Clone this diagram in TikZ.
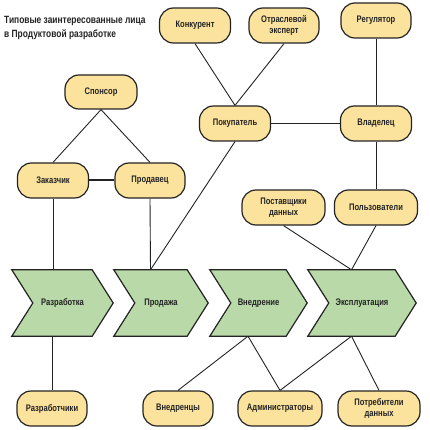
\documentclass[tikz,border=0pt]{standalone}
\usepackage{fontspec}
\setmainfont{Liberation Sans}[FakeStretch=0.8]
\definecolor{ndyellow}{RGB}{251, 227, 158}
\definecolor{chvgreen}{RGB}{185, 217, 168}
\definecolor{lndark}{RGB}{35, 35, 35}
\usetikzlibrary{positioning, calc, backgrounds}

\begin{document}
\begin{tikzpicture}[
  x=1pt, y=-1pt,
  nd/.style={draw=lndark, fill=ndyellow, line width=1.2pt, rounded corners=14pt, minimum width=71pt, minimum height=35pt, inner sep=1pt, align=center, font=\bfseries\fontsize{9.5}{11.5}\selectfont, text=lndark},
  ndw/.style={nd, minimum width=83pt},
  chv/.style={draw=lndark, fill=chvgreen, line width=1.2pt, line join=miter},
  chvtxt/.style={minimum height=66pt, inner sep=0pt, font=\bfseries\fontsize{9.5}{11.5}\selectfont, text=lndark},
  ln/.style={draw=lndark, line width=0.9pt},
]
  \useasboundingbox (0,0) rectangle (430,430);

  \node[anchor=north west, align=left, inner sep=0pt, font=\bfseries\fontsize{10.5}{14}\selectfont, text=lndark] (title) at (4,16) {Типовые заинтересованные лица\\в Продуктовой разработке};

  \node[nd] (kon) at (195,25.5) {Конкурент};
  \node[nd, minimum width=70pt] (exp) at (284,25.5) {Отраслевой\\эксперт};
  \node[nd, minimum width=70pt] (reg) at (376,20.5) {Регулятор};
  \node[nd, minimum width=72pt, minimum height=34pt] (spon) at (101,92) {Спонсор};
  \node[nd] (pok) at (235,123.5) {Покупатель};
  \node[nd] (vlad) at (376,123.5) {Владелец};
  \node[nd] (zak) at (53,180.5) {Заказчик};
  \node[nd, minimum width=70pt] (prod) at (150,180.5) {Продавец};
  \node[ndw] (post) at (283.5,207.5) {Поставщики\\данных};
  \node[ndw] (polz) at (376,207.5) {Пользователи};

  \node[chvtxt, minimum width=101pt] (dev) at (62.5,303) {Разработка};
  \node[chvtxt, minimum width=94pt] (sale) at (161,303) {Продажа};
  \node[chvtxt, minimum width=97pt] (impl) at (258.5,303) {Внедрение};
  \node[chvtxt, minimum width=108pt] (oper) at (362,303) {Эксплуатация};
  \begin{pgfonlayer}{background}
  \foreach \n in {dev,sale,impl,oper}
    \draw[chv] (\n.north west) -- ($(\n.north east)+(-21,0)$) -- (\n.east)
      -- ($(\n.south east)+(-21,0)$) -- (\n.south west) -- ($(\n.west)+(21,0)$) -- cycle;
  \end{pgfonlayer}

  \node[nd, minimum width=70pt] (razr) at (52,408.5) {Разработчики};
  \node[nd, minimum width=70pt] (vned) at (178,408.5) {Внедренцы};
  \node[nd, minimum width=84pt] (adm) at (280,408.5) {Администраторы};
  \node[nd, minimum width=82pt] (potr) at (379,408.5) {Потребители\\данных};

  \coordinate (sale-t) at ($(sale.north)+(-10.5,0)$);
  \coordinate (impl-b) at ($(impl.south)+(-10.5,0)$);
  \coordinate (oper-t) at ($(oper.north)+(-10.5,0)$);
  \coordinate (oper-b) at ($(oper.south)+(-10.5,0)$);

  \draw[ln] (spon.south) -- (zak.north);
  \draw[ln] (spon.south) -- (prod.north);
  \draw[ln, line width=2pt] (zak.east) -- (prod.west);
  \draw[ln] (zak.south) -- (zak.south |- dev.north);
  \draw[ln] (razr.north |- dev.south) -- (razr.north);
  \draw[ln] (prod.south) -- (sale-t);
  \draw[ln] (pok.south) -- (sale-t);
  \draw[ln] (kon.south) -- (pok.north);
  \draw[ln] (exp.south) -- (pok.north);
  \draw[ln] (pok.east) -- (vlad.west);
  \draw[ln] (reg.south) -- (vlad.north);
  \draw[ln] (vlad.south) -- (polz.north);
  \draw[ln] (post.south) -- (oper-t);
  \draw[ln] (polz.south) -- (oper-t);
  \draw[ln] (impl-b) -- (vned.north);
  \draw[ln] (impl-b) -- (adm.north);
  \draw[ln] (oper-b) -- (adm.north);
  \draw[ln] (oper-b) -- (potr.north);
\end{tikzpicture}
\end{document}
